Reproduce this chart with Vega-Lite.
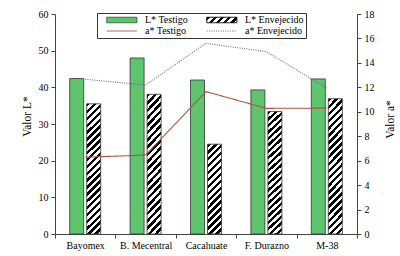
{
  "$schema": "https://vega.github.io/schema/vega-lite/v6.json",
  "width": 302,
  "height": 220,
  "autosize": {"type": "none"},
  "padding": {"left": 55, "top": 14, "right": 43, "bottom": 22},
  "background": "white",
  "config": {
    "view": {"stroke": null},
    "font": "'Liberation Serif', 'Times New Roman', Times, serif",
    "axis": {
      "labelFont": "'Liberation Serif', 'Times New Roman', Times, serif",
      "labelFontSize": 10,
      "labelColor": "#000",
      "titleFont": "'Liberation Serif', 'Times New Roman', Times, serif",
      "titleFontSize": 11.5,
      "titleFontWeight": "normal",
      "titleColor": "#000",
      "domainColor": "#444",
      "tickColor": "#444",
      "grid": false,
      "tickSize": 4
    }
  },
  "datasets": {
    "barras": [
      {"muestra": "Bayomex", "tipo": "L* Testigo", "valor": 42.4},
      {"muestra": "Bayomex", "tipo": "L* Envejecido", "valor": 35.5},
      {"muestra": "B. Mecentral", "tipo": "L* Testigo", "valor": 48.0},
      {"muestra": "B. Mecentral", "tipo": "L* Envejecido", "valor": 38.1},
      {"muestra": "Cacahuate", "tipo": "L* Testigo", "valor": 42.0},
      {"muestra": "Cacahuate", "tipo": "L* Envejecido", "valor": 24.5},
      {"muestra": "F. Durazno", "tipo": "L* Testigo", "valor": 39.3},
      {"muestra": "F. Durazno", "tipo": "L* Envejecido", "valor": 33.4},
      {"muestra": "M-38", "tipo": "L* Testigo", "valor": 42.3},
      {"muestra": "M-38", "tipo": "L* Envejecido", "valor": 36.9}
    ],
    "lineas": [
      {"muestra": "Bayomex", "tipo": "a* Testigo", "valor": 6.28},
      {"muestra": "B. Mecentral", "tipo": "a* Testigo", "valor": 6.46},
      {"muestra": "Cacahuate", "tipo": "a* Testigo", "valor": 11.65},
      {"muestra": "F. Durazno", "tipo": "a* Testigo", "valor": 10.28},
      {"muestra": "M-38", "tipo": "a* Testigo", "valor": 10.3},
      {"muestra": "Bayomex", "tipo": "a* Envejecido", "valor": 12.66},
      {"muestra": "B. Mecentral", "tipo": "a* Envejecido", "valor": 12.19},
      {"muestra": "Cacahuate", "tipo": "a* Envejecido", "valor": 15.6},
      {"muestra": "F. Durazno", "tipo": "a* Envejecido", "valor": 14.92},
      {"muestra": "M-38", "tipo": "a* Envejecido", "valor": 11.92}
    ]
  },
  "layer": [
    {
      "data": {"name": "barras"},
      "mark": {"type": "bar", "size": 14, "stroke": "#333", "strokeWidth": 0.8},
      "encoding": {
        "x": {
          "field": "muestra", "type": "nominal",
          "scale": {"domain": ["Bayomex", "B. Mecentral", "Cacahuate", "F. Durazno", "M-38"], "paddingInner": 0, "paddingOuter": 0},
          "axis": {"title": null, "labelAngle": 0, "tickBand": "extent", "labelPadding": 2}
        },
        "xOffset": {
          "field": "tipo", "type": "nominal",
          "scale": {"domain": ["L* Testigo", "L* Envejecido"], "paddingInner": 0, "paddingOuter": 0.776}
        },
        "y": {
          "field": "valor", "type": "quantitative",
          "scale": {"domain": [0, 60], "nice": false},
          "axis": {"orient": "left", "values": [0, 10, 20, 30, 40, 50, 60], "title": "Valor L*", "titleAngle": 270, "titleX": -25, "titleY": 102, "titleBaseline": "alphabetic", "titleAlign": "center", "labelPadding": 3}
        },
        "fill": {
          "condition": [
            {"test": "datum.tipo === 'L* Testigo'", "value": "#5ec46e"},
            {"test": "datum.muestra === 'Cacahuate'", "value": {"gradient": "linear", "x1": 0, "y1": 0, "x2": 0.176, "y2": 1.129, "stops": [
              {"offset": 0, "color": "#000"}, {"offset": 0.0333, "color": "#000"}, {"offset": 0.0333, "color": "#fff"}, {"offset": 0.0667, "color": "#fff"},
              {"offset": 0.0667, "color": "#000"}, {"offset": 0.1, "color": "#000"}, {"offset": 0.1, "color": "#fff"}, {"offset": 0.1333, "color": "#fff"},
              {"offset": 0.1333, "color": "#000"}, {"offset": 0.1667, "color": "#000"}, {"offset": 0.1667, "color": "#fff"}, {"offset": 0.2, "color": "#fff"},
              {"offset": 0.2, "color": "#000"}, {"offset": 0.2333, "color": "#000"}, {"offset": 0.2333, "color": "#fff"}, {"offset": 0.2667, "color": "#fff"},
              {"offset": 0.2667, "color": "#000"}, {"offset": 0.3, "color": "#000"}, {"offset": 0.3, "color": "#fff"}, {"offset": 0.3333, "color": "#fff"},
              {"offset": 0.3333, "color": "#000"}, {"offset": 0.3667, "color": "#000"}, {"offset": 0.3667, "color": "#fff"}, {"offset": 0.4, "color": "#fff"},
              {"offset": 0.4, "color": "#000"}, {"offset": 0.4333, "color": "#000"}, {"offset": 0.4333, "color": "#fff"}, {"offset": 0.4667, "color": "#fff"},
              {"offset": 0.4667, "color": "#000"}, {"offset": 0.5, "color": "#000"}, {"offset": 0.5, "color": "#fff"}, {"offset": 0.5333, "color": "#fff"},
              {"offset": 0.5333, "color": "#000"}, {"offset": 0.5667, "color": "#000"}, {"offset": 0.5667, "color": "#fff"}, {"offset": 0.6, "color": "#fff"},
              {"offset": 0.6, "color": "#000"}, {"offset": 0.6333, "color": "#000"}, {"offset": 0.6333, "color": "#fff"}, {"offset": 0.6667, "color": "#fff"},
              {"offset": 0.6667, "color": "#000"}, {"offset": 0.7, "color": "#000"}, {"offset": 0.7, "color": "#fff"}, {"offset": 0.7333, "color": "#fff"},
              {"offset": 0.7333, "color": "#000"}, {"offset": 0.7667, "color": "#000"}, {"offset": 0.7667, "color": "#fff"}, {"offset": 0.8, "color": "#fff"},
              {"offset": 0.8, "color": "#000"}, {"offset": 0.8333, "color": "#000"}, {"offset": 0.8333, "color": "#fff"}, {"offset": 0.8667, "color": "#fff"},
              {"offset": 0.8667, "color": "#000"}, {"offset": 0.9, "color": "#000"}, {"offset": 0.9, "color": "#fff"}, {"offset": 0.9333, "color": "#fff"},
              {"offset": 0.9333, "color": "#000"}, {"offset": 0.9667, "color": "#000"}, {"offset": 0.9667, "color": "#fff"}, {"offset": 1, "color": "#fff"}
            ]}}
          ],
          "value": {"gradient": "linear", "x1": 0, "y1": 0, "x2": 0.117, "y2": 1.094, "stops": [
            {"offset": 0, "color": "#000"}, {"offset": 0.0238, "color": "#000"}, {"offset": 0.0238, "color": "#fff"}, {"offset": 0.0476, "color": "#fff"},
            {"offset": 0.0476, "color": "#000"}, {"offset": 0.0714, "color": "#000"}, {"offset": 0.0714, "color": "#fff"}, {"offset": 0.0952, "color": "#fff"},
            {"offset": 0.0952, "color": "#000"}, {"offset": 0.119, "color": "#000"}, {"offset": 0.119, "color": "#fff"}, {"offset": 0.1429, "color": "#fff"},
            {"offset": 0.1429, "color": "#000"}, {"offset": 0.1667, "color": "#000"}, {"offset": 0.1667, "color": "#fff"}, {"offset": 0.1905, "color": "#fff"},
            {"offset": 0.1905, "color": "#000"}, {"offset": 0.2143, "color": "#000"}, {"offset": 0.2143, "color": "#fff"}, {"offset": 0.2381, "color": "#fff"},
            {"offset": 0.2381, "color": "#000"}, {"offset": 0.2619, "color": "#000"}, {"offset": 0.2619, "color": "#fff"}, {"offset": 0.2857, "color": "#fff"},
            {"offset": 0.2857, "color": "#000"}, {"offset": 0.3095, "color": "#000"}, {"offset": 0.3095, "color": "#fff"}, {"offset": 0.3333, "color": "#fff"},
            {"offset": 0.3333, "color": "#000"}, {"offset": 0.3571, "color": "#000"}, {"offset": 0.3571, "color": "#fff"}, {"offset": 0.381, "color": "#fff"},
            {"offset": 0.381, "color": "#000"}, {"offset": 0.4048, "color": "#000"}, {"offset": 0.4048, "color": "#fff"}, {"offset": 0.4286, "color": "#fff"},
            {"offset": 0.4286, "color": "#000"}, {"offset": 0.4524, "color": "#000"}, {"offset": 0.4524, "color": "#fff"}, {"offset": 0.4762, "color": "#fff"},
            {"offset": 0.4762, "color": "#000"}, {"offset": 0.5, "color": "#000"}, {"offset": 0.5, "color": "#fff"}, {"offset": 0.5238, "color": "#fff"},
            {"offset": 0.5238, "color": "#000"}, {"offset": 0.5476, "color": "#000"}, {"offset": 0.5476, "color": "#fff"}, {"offset": 0.5714, "color": "#fff"},
            {"offset": 0.5714, "color": "#000"}, {"offset": 0.5952, "color": "#000"}, {"offset": 0.5952, "color": "#fff"}, {"offset": 0.619, "color": "#fff"},
            {"offset": 0.619, "color": "#000"}, {"offset": 0.6429, "color": "#000"}, {"offset": 0.6429, "color": "#fff"}, {"offset": 0.6667, "color": "#fff"},
            {"offset": 0.6667, "color": "#000"}, {"offset": 0.6905, "color": "#000"}, {"offset": 0.6905, "color": "#fff"}, {"offset": 0.7143, "color": "#fff"},
            {"offset": 0.7143, "color": "#000"}, {"offset": 0.7381, "color": "#000"}, {"offset": 0.7381, "color": "#fff"}, {"offset": 0.7619, "color": "#fff"},
            {"offset": 0.7619, "color": "#000"}, {"offset": 0.7857, "color": "#000"}, {"offset": 0.7857, "color": "#fff"}, {"offset": 0.8095, "color": "#fff"},
            {"offset": 0.8095, "color": "#000"}, {"offset": 0.8333, "color": "#000"}, {"offset": 0.8333, "color": "#fff"}, {"offset": 0.8571, "color": "#fff"},
            {"offset": 0.8571, "color": "#000"}, {"offset": 0.881, "color": "#000"}, {"offset": 0.881, "color": "#fff"}, {"offset": 0.9048, "color": "#fff"},
            {"offset": 0.9048, "color": "#000"}, {"offset": 0.9286, "color": "#000"}, {"offset": 0.9286, "color": "#fff"}, {"offset": 0.9524, "color": "#fff"},
            {"offset": 0.9524, "color": "#000"}, {"offset": 0.9762, "color": "#000"}, {"offset": 0.9762, "color": "#fff"}, {"offset": 1, "color": "#fff"}
          ]}
        }
      }
    },
    {
      "data": {"name": "lineas"},
      "mark": {"type": "line", "strokeWidth": 1.1},
      "encoding": {
        "x": {
          "field": "muestra", "type": "nominal",
          "scale": {"domain": ["Bayomex", "B. Mecentral", "Cacahuate", "F. Durazno", "M-38"], "paddingInner": 0, "paddingOuter": 0}
        },
        "y": {
          "field": "valor", "type": "quantitative",
          "scale": {"domain": [0, 18], "nice": false},
          "axis": {"orient": "right", "values": [0, 2, 4, 6, 8, 10, 12, 14, 16, 18], "title": "Valor a*", "titleAngle": 270, "titleX": 36, "titleY": 105, "titleBaseline": "alphabetic", "titleAlign": "center", "labelPadding": 3}
        },
        "color": {
          "field": "tipo", "type": "nominal",
          "scale": {"domain": ["L* Testigo", "a* Testigo", "L* Envejecido", "a* Envejecido"], "range": ["#2f5f36", "#b4533c", "#000000", "#5f6b8a"]},
          "legend": {
            "title": null,
            "orient": "none",
            "legendX": 42,
            "legendY": -1,
            "columns": 2,
            "columnPadding": 11,
            "rowPadding": 1,
            "padding": 2,
            "symbolSize": 30,
            "symbolStrokeWidth": 1,
            "labelOffset": 36,
            "labelFont": "'Liberation Serif', 'Times New Roman', Times, serif",
            "labelFontSize": 10,
            "labelColor": "#000",
            "strokeColor": "#333",
            "fillColor": "#fff",
            "encode": {
              "symbols": {
                "update": {
                  "shape": {"signal": "indexof(datum.value, 'a*') === 0 ? 'M1,0H12' : 'M1,-1H12V1H1Z'"},
                  "fill": {"signal": "datum.value === 'L* Testigo' ? '#5ec46e' : datum.value === 'L* Envejecido' ? {gradient: 'linear', x1: 0, y1: 0, x2: 1.145, y2: 0.209, stops: [{offset: 0, color: '#000'}, {offset: 0.1, color: '#000'}, {offset: 0.1, color: '#fff'}, {offset: 0.2, color: '#fff'}, {offset: 0.2, color: '#000'}, {offset: 0.3, color: '#000'}, {offset: 0.3, color: '#fff'}, {offset: 0.4, color: '#fff'}, {offset: 0.4, color: '#000'}, {offset: 0.5, color: '#000'}, {offset: 0.5, color: '#fff'}, {offset: 0.6, color: '#fff'}, {offset: 0.6, color: '#000'}, {offset: 0.7, color: '#000'}, {offset: 0.7, color: '#fff'}, {offset: 0.8, color: '#fff'}, {offset: 0.8, color: '#000'}, {offset: 0.9, color: '#000'}, {offset: 0.9, color: '#fff'}, {offset: 1, color: '#fff'}]} : 'transparent'"},
                  "strokeDash": {"signal": "datum.value === 'a* Envejecido' ? [1, 1.3] : [1, 0]"},
                  "strokeWidth": {"value": 1},
                  "opacity": {"value": 1}
                }
              }
            }
          }
        },
        "strokeDash": {
          "field": "tipo", "type": "nominal",
          "scale": {"domain": ["a* Testigo", "a* Envejecido"], "range": [[1, 0], [1, 1.3]]},
          "legend": null
        }
      }
    }
  ],
  "resolve": {"scale": {"y": "independent"}, "axis": {"y": "independent"}}
}
